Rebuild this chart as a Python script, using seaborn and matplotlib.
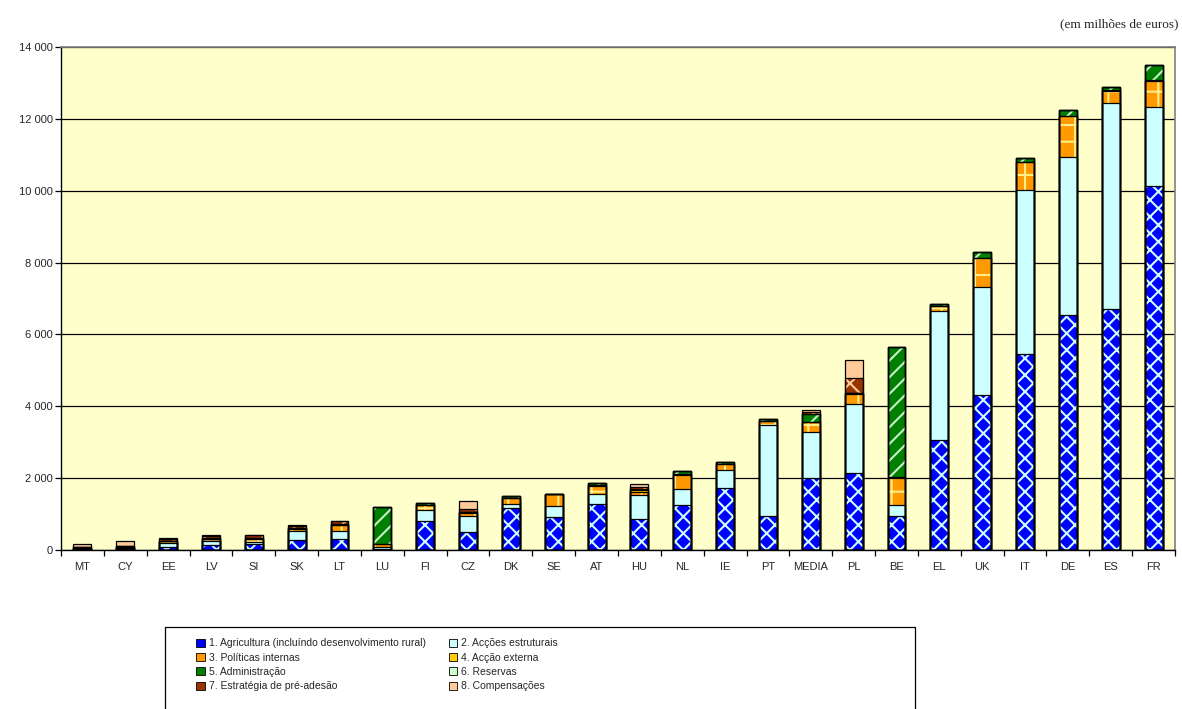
import numpy as np
import pandas as pd
import seaborn as sns
import matplotlib.pyplot as plt
from matplotlib.patches import Patch, Rectangle
from matplotlib.ticker import FuncFormatter, FixedLocator

# dados (em milhões de euros)
paises = ["MT", "CY", "EE", "LV", "SI", "SK", "LT", "LU", "FI", "CZ", "DK", "SE", "AT",
          "HU", "NL", "IE", "PT", "MEDIA", "PL", "BE", "EL", "UK", "IT", "DE", "ES", "FR"]
agricultura = [5, 20, 80, 130, 160, 280, 300, 30, 820, 510, 1160, 920, 1290,
               850, 1240, 1730, 945, 2000, 2135, 945, 3060, 4305, 5455, 6550, 6700, 10130]
estruturais = [15, 40, 110, 110, 60, 250, 215, 40, 290, 430, 130, 300, 260,
               670, 465, 485, 2535, 1280, 1920, 300, 3590, 3005, 4570, 4400, 5730, 2195]
internas = [35, 30, 50, 70, 90, 60, 170, 90, 130, 90, 150, 330, 240,
            100, 390, 180, 100, 270, 280, 770, 140, 810, 765, 1130, 350, 735]
externa = [0, 0, 10, 10, 20, 10, 20, 10, 20, 20, 10, 10, 15,
           50, 10, 5, 10, 20, 25, 10, 10, 20, 10, 10, 10, 10]
administracao = [15, 10, 10, 10, 15, 15, 15, 1035, 50, 15, 65, 12, 65,
                 15, 90, 56, 45, 210, 10, 3620, 40, 148, 120, 160, 85, 424]
reservas = [0] * 26
pre_adesao = [0, 0, 50, 70, 60, 60, 95, 0, 0, 80, 0, 0, 0,
              60, 0, 0, 0, 60, 420, 0, 0, 0, 0, 0, 0, 0]
compensacoes = [100, 160, 15, 17, 10, 20, 0, 0, 0, 205, 0, 0, 0,
                100, 0, 0, 0, 65, 500, 0, 0, 0, 0, 0, 0, 0]

rubricas = ["1. Agricultura (incluíndo desenvolvimento rural)", "2. Acções estruturais",
            "3. Políticas internas", "4. Acção externa", "5. Administração", "6. Reservas",
            "7. Estratégia de pré-adesão", "8. Compensações"]
valores = [agricultura, estruturais, internas, externa, administracao, reservas,
           pre_adesao, compensacoes]

# estilo de cada rubrica: (cor de fundo, padrão, cor do padrão)
estilos = [("#0000FF", "xx", "#CCFFFF"),
           ("#CCFFFF", None, None),
           ("#FF9900", "+", "#FFEE88"),
           ("#FFCC00", None, None),
           ("#008000", "//", "#C8F0C8"),
           ("#CCFFCC", None, None),
           ("#993300", "x", "#FFCC99"),
           ("#FFCC99", None, None)]

sns.set_style("ticks")
plt.rcParams["font.family"] = ["Liberation Sans", "DejaVu Sans"]
plt.rcParams["hatch.linewidth"] = 1.5

fig = plt.figure(figsize=(11.82, 7.09), dpi=100)
ax = fig.add_axes([61 / 1182, 159 / 709, 1114 / 1182, 503 / 709])
ax.set_facecolor("#FFFFCC")

df = pd.DataFrame(dict(zip(rubricas, valores)), index=paises)
acum = df.cumsum(axis=1)

# barras acumuladas, da maior para a menor (sobrepostas)
for k in range(len(rubricas) - 1, -1, -1):
    cor, padrao, cor_padrao = estilos[k]
    sns.barplot(x=paises, y=acum.iloc[:, k].values, order=paises, ax=ax, color=cor,
                saturation=1, width=0.42, errorbar=None, linewidth=0,
                edgecolor=cor_padrao if cor_padrao else cor, hatch=padrao)

# contornos pretos de cada segmento
for k in range(len(rubricas)):
    n0 = len(ax.patches)
    sns.barplot(x=paises, y=acum.iloc[:, k].values, order=paises, ax=ax, color="black",
                saturation=1, width=0.42, errorbar=None, linewidth=0.9)
    for p in ax.patches[n0:]:
        p.set_facecolor("none")
        p.set_edgecolor("black")
        p.set_linewidth(0.9)

ax.set_xlim(-0.5, len(paises) - 0.5)
ax.set_ylim(0, 14000)
ax.set_yticks(np.arange(0, 14001, 2000))
ax.yaxis.set_major_formatter(FuncFormatter(lambda v, _: f"{v:,.0f}".replace(",", " ")))
ax.yaxis.grid(True, color="black", linewidth=0.9)
ax.set_axisbelow(True)
ax.tick_params(axis="y", labelsize=8, length=4, width=0.9, color="black", pad=2)
ax.tick_params(axis="x", which="major", length=0, labelsize=8, pad=9)
ax.xaxis.set_minor_locator(FixedLocator(np.arange(-0.5, len(paises), 1)))
ax.tick_params(axis="x", which="minor", length=4, width=0.9, color="black")
ax.set_xlabel("")
ax.set_ylabel("")

for s in ["top", "right"]:
    ax.spines[s].set_color("#808080")
    ax.spines[s].set_linewidth(1.2)
    ax.spines[s].set_visible(True)
for s in ["left", "bottom"]:
    ax.spines[s].set_color("black")
    ax.spines[s].set_linewidth(1.0)

fig.text(1178 / 1182, 1 - 27 / 709, "(em milhões de euros)", ha="right", va="baseline",
         fontsize=9.5, family=["Liberation Serif", "DejaVu Serif"])

# legenda (ordem por linhas, como no original)
fig.patches.append(Rectangle((165 / 1182, -0.01), 750 / 1182, (709 - 627) / 709 + 0.01,
                             transform=fig.transFigure, fill=False, edgecolor="black",
                             linewidth=0.9))
handles = [Patch(facecolor=cor, edgecolor="black", linewidth=0.6, label=nome)
           for (cor, padrao, cor_padrao), nome in zip(estilos, rubricas)]
handles = handles[0::2] + handles[1::2]
fig.legend(handles=handles, loc="upper left", bbox_to_anchor=(191 / 1182, 1 - 633 / 709),
           ncol=2, frameon=False, handlelength=0.8, handleheight=0.8,
           handletextpad=0.4, columnspacing=2.2, labelspacing=0.42, borderpad=0,
           prop={"family": ["Liberation Sans", "DejaVu Sans"], "size": 7.5})

fig.savefig("out.png", dpi=100)
